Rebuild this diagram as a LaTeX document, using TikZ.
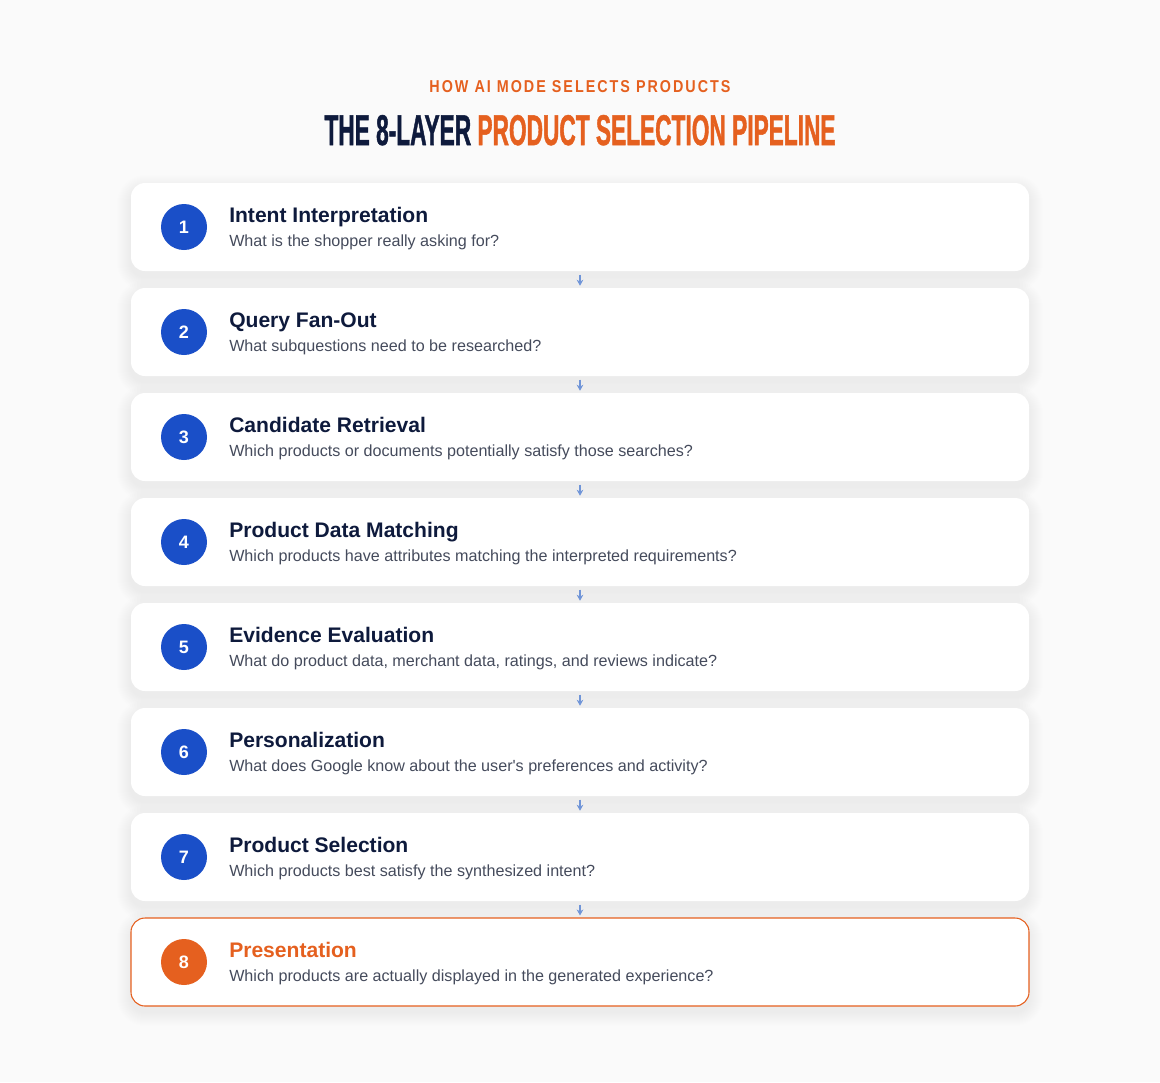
\documentclass[tikz,border=0pt]{standalone}
\usepackage{fontspec}
\setmainfont{Liberation Sans}
\newfontfamily\spacedfont[LetterSpace=14]{Liberation Sans}
\newfontfamily\titlefont[FakeStretch=0.7,FakeBold=1.2]{Liberation Sans}
\usetikzlibrary{arrows.meta}
\definecolor{bgc}{HTML}{FAFAFA}
\definecolor{navy}{HTML}{0E1A3C}
\definecolor{orng}{HTML}{E5601F}
\definecolor{blu}{HTML}{1A4FC8}
\definecolor{grayt}{HTML}{454B5C}
\definecolor{arrc}{HTML}{7095D8}
\tikzset{
  card/.style={draw=none, fill=white, rounded corners=10.5pt, minimum width=673.5pt, minimum height=66pt, inner sep=0pt},
  hicard/.style={card, draw=orng, line width=0.8pt},
  shadowlayer/.style={fill=black, fill opacity=0.0045, draw=none},
  numc/.style={circle, fill=blu, minimum size=34.5pt, inner sep=0pt, text=white, font=\bfseries\fontsize{13.5}{15}\selectfont},
  hinumc/.style={numc, fill=orng},
  ttl/.style={anchor=base west, inner sep=0pt, text=navy, font=\bfseries\fontsize{15.8}{18}\selectfont},
  hittl/.style={ttl, text=orng},
  sub/.style={anchor=base west, inner sep=0pt, text=grayt, font=\fontsize{12.1}{14}\selectfont},
  arr/.style={draw=arrc, line width=1.1pt, -{Stealth[length=4.5pt,width=5pt]}, shorten <=2.5pt, shorten >=1.5pt}
}
\newcommand{\cardshadow}[1]{%
  \foreach \k in {1,...,14}{%
    \pgfmathsetmacro{\rr}{(10.5+0.75*\k)}%
    \fill[shadowlayer, rounded corners=\rr pt] (131-\k,#1-44+6-\k) rectangle (1029+\k,#1+44+6+\k);
  }}
\begin{document}
\begin{tikzpicture}[x=0.75pt,y=-0.75pt]
\fill[bgc] (0,0) rectangle (1160,1082);
\useasboundingbox (0,0) rectangle (1160,1082);
\node[anchor=base, inner sep=0pt, text=orng] (hdr) at (580,92) {\resizebox{225.75pt}{9pt}{\spacedfont\bfseries HOW AI MODE SELECTS PRODUCTS}};
\node[anchor=base, inner sep=0pt] (ttlmain) at (580,145) {\resizebox{383.25pt}{22.5pt}{\titlefont\bfseries\textcolor{navy}{THE 8-LAYER} \textcolor{orng}{PRODUCT SELECTION PIPELINE}}};
\foreach \i in {1,...,8}{
  \pgfmathsetmacro{\yc}{227+105*(\i-1)}
  \cardshadow{\yc}
}
\foreach \i/\t/\s in {
 1/Intent Interpretation/What is the shopper really asking for?,
 2/Query Fan-Out/What subquestions need to be researched?,
 3/Candidate Retrieval/Which products or documents potentially satisfy those searches?,
 4/Product Data Matching/Which products have attributes matching the interpreted requirements?,
 5/Evidence Evaluation/{What do product data, merchant data, ratings, and reviews indicate?},
 6/Personalization/What does Google know about the user\textquotesingle s preferences and activity?,
 7/Product Selection/Which products best satisfy the synthesized intent?}{
  \pgfmathsetmacro{\yc}{227+105*(\i-1)}
  \node[card] (c\i) at (580,\yc) {};
  \node[numc] (n\i) at (184,\yc) {\i};
  \node[ttl] (t\i) at (229,\yc-5) {\t};
  \node[sub] (s\i) at (229,\yc+19) {\s};
}
\node[hicard] (c8) at (580,962) {};
\node[hinumc] (n8) at (184,962) {8};
\node[hittl] (t8) at (229,957) {Presentation};
\node[sub] (s8) at (229,981) {Which products are actually displayed in the generated experience?};
\foreach \a/\b in {1/2,2/3,3/4,4/5,5/6,6/7,7/8}{
  \draw[arr] (c\a.south) -- (c\b.north);
}
\end{tikzpicture}
\end{document}
